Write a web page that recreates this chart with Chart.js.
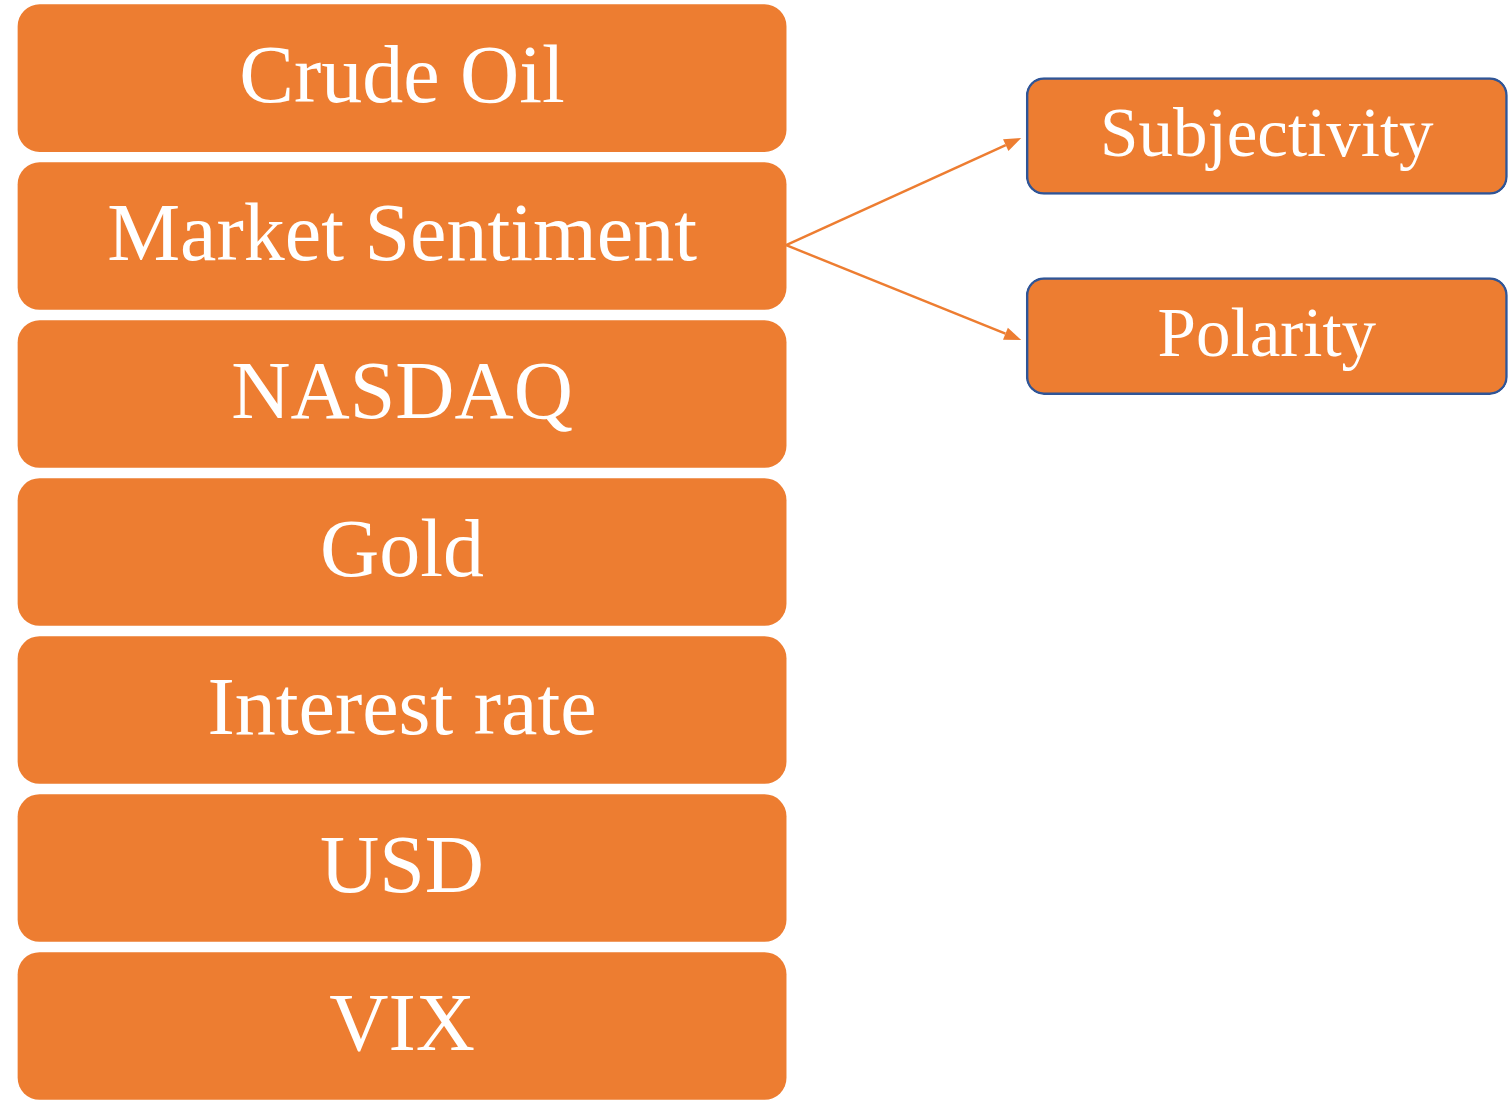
<!DOCTYPE html>
<html>
<head>
<meta charset="utf-8">
<style>
  html, body { margin: 0; padding: 0; background: #fff; }
  #wrap { width: 1509px; height: 1102px; }
</style>
<script src="https://cdn.jsdelivr.net/npm/chart.js@4"></script>
</head>
<body>
<div id="wrap"><canvas id="chart"></canvas></div>
<script>
// Diagram content
const factors = ['Crude Oil', 'Market Sentiment', 'NASDAQ', 'Gold', 'Interest rate', 'USD', 'VIX'];
const sentimentParts = ['Subjectivity', 'Polarity'];
const parentFactor = 'Market Sentiment';

// layout (in axis units: one column width = 1, one row = 1)
const leftCol = [0, 1];
const rightCol = [1.3125, 1.939];
const subOffset = 0.633;

const ORANGE = '#ED7D31';
const BLUE = '#2F5597';

const parentRow = factors.indexOf(parentFactor);

const leftData = factors.map((f, i) => ({ x: leftCol, y: i, label: f }));
const rightData = sentimentParts.map((s, i) => ({
  x: rightCol,
  y: parentRow + (i === 0 ? -subOffset : subOffset),
  label: s
}));

// box labels
const boxText = {
  id: 'boxText',
  afterDatasetsDraw(chart) {
    const ctx = chart.ctx;
    ctx.save();
    ctx.fillStyle = '#fff';
    ctx.textAlign = 'center';
    ctx.textBaseline = 'middle';
    chart.data.datasets.forEach((ds, di) => {
      const meta = chart.getDatasetMeta(di);
      ctx.font = ds.fontSize + 'px "Liberation Serif", "Times New Roman", serif';
      meta.data.forEach((bar, i) => {
        const cx = (bar.x + bar.base) / 2;
        ctx.fillText(ds.data[i].label, cx, bar.y + 2);
      });
    });
    ctx.restore();
  }
};

// arrows from Market Sentiment to its two parts
const arrows = {
  id: 'arrows',
  afterDatasetsDraw(chart) {
    const ctx = chart.ctx;
    const src = chart.getDatasetMeta(0).data[parentRow];
    const sx = Math.max(src.x, src.base);
    const sy = src.y + 9;
    ctx.save();
    ctx.strokeStyle = ORANGE;
    ctx.fillStyle = ORANGE;
    ctx.lineWidth = 2.5;
    chart.getDatasetMeta(1).data.forEach((bar, i) => {
      const ex = Math.min(bar.x, bar.base) - 5;
      const ey = bar.y + (i === 0 ? 2 : 4);
      const ang = Math.atan2(ey - sy, ex - sx);
      const head = 17, w = 6.5;
      const bx = ex - head * Math.cos(ang), by = ey - head * Math.sin(ang);
      ctx.beginPath();
      ctx.moveTo(sx, sy);
      ctx.lineTo(bx, by);
      ctx.stroke();
      ctx.beginPath();
      ctx.moveTo(ex, ey);
      ctx.lineTo(bx + w * Math.sin(ang), by - w * Math.cos(ang));
      ctx.lineTo(bx - w * Math.sin(ang), by + w * Math.cos(ang));
      ctx.closePath();
      ctx.fill();
    });
    ctx.restore();
  }
};

new Chart(document.getElementById('chart'), {
  type: 'bar',
  data: {
    datasets: [
      {
        data: leftData,
        backgroundColor: ORANGE,
        borderWidth: 0,
        borderRadius: 22,
        borderSkipped: false,
        barThickness: 147,
        fontSize: 82
      },
      {
        data: rightData,
        backgroundColor: ORANGE,
        borderColor: BLUE,
        borderWidth: 2.5,
        borderRadius: 18,
        borderSkipped: false,
        barThickness: 117,
        fontSize: 69
      }
    ]
  },
  options: {
    indexAxis: 'y',
    responsive: true,
    maintainAspectRatio: false,
    animation: false,
    grouped: false,
    layout: { padding: 0 },
    plugins: { legend: { display: false }, tooltip: { enabled: false } },
    scales: {
      x: { type: 'linear', min: -0.0234, max: 1.941, offset: false, display: false },
      y: { type: 'linear', min: -0.494, max: 6.481, reverse: true, offset: false, display: false }
    }
  },
  plugins: [arrows, boxText]
});
</script>
</body>
</html>
